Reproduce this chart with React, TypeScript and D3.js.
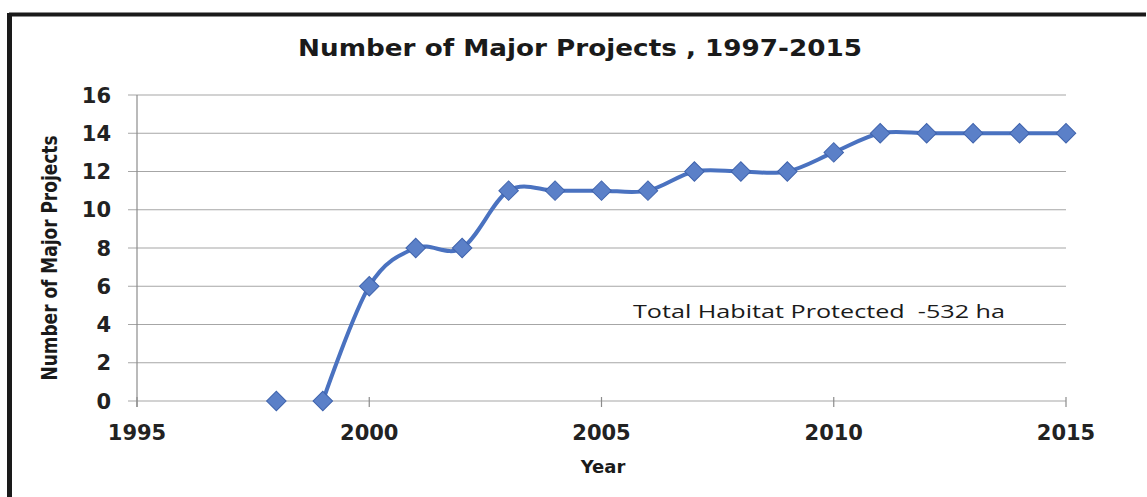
import React from 'react';
import * as d3 from 'd3';

// values
const years = [1998, 1999, 2000, 2001, 2002, 2003, 2004, 2005, 2006, 2007, 2008, 2009, 2010, 2011, 2012, 2013, 2014, 2015];
const projects = [0, 0, 6, 8, 8, 11, 11, 11, 11, 12, 12, 12, 13, 14, 14, 14, 14, 14];
const xTicks = [1995, 2000, 2005, 2010, 2015];
const yTicks = [0, 2, 4, 6, 8, 10, 12, 14, 16];
const title = 'Number of Major Projects , 1997-2015';
const xTitle = 'Year';
const yTitle = 'Number of Major Projects';
const note = 'Total Habitat Protected  -532 ha';

const width = 1147;
const height = 497;
const margin = { top: 95, right: 81, bottom: 96, left: 137 };
const blue = '#4a72c0';

const App = () => {
  const x = d3.scaleLinear()
    .domain([1995, 2015])
    .range([margin.left, width - margin.right]);
  const y = d3.scaleLinear()
    .domain([0, 16])
    .range([height - margin.bottom, margin.top]);

  const data = years.map((yr, i) => ({ year: yr, value: projects[i], i }));

  // the line in the source begins at 1999; the 1998 marker stands alone
  const line = d3.line<{ year: number; value: number; i: number }>()
    .defined(d => d.i > 0)
    .x(d => x(d.year))
    .y(d => y(d.value))
    .curve(d3.curveCardinal.tension(0));

  const diamond = d3.symbol().type(d3.symbolSquare).size(190)();

  const x0 = x(1995);
  const x1 = x(2015);

  return (
    <div style={{ position: 'absolute', left: 0, top: 0 }}>
      <svg width={width} height={height} style={{ display: 'block', background: '#fff' }}>
        {/* frame */}
        <line x1={9} x2={1146} y1={14.5} y2={14.5} stroke="#1a1a1a" strokeWidth={4} />
        <line x1={9.5} x2={9.5} y1={13} y2={height} stroke="#1a1a1a" strokeWidth={5} />

        <text x={580} y={56} textAnchor="middle" fontFamily="DejaVu Sans" fontWeight="bold" fontSize={23}
          textLength={564} lengthAdjust="spacingAndGlyphs" fill="#1a1a1a">
          {title}
        </text>

        {/* gridlines + y ticks */}
        {yTicks.map(t => (
          <g key={t}>
            <line x1={x0 - 9} x2={x1} y1={y(t)} y2={y(t)} stroke="#a6a6a6" strokeWidth={1.2} />
            <text x={111} y={y(t)} dy="0.36em" textAnchor="end" fontFamily="DejaVu Sans" fontWeight="bold" fontSize={21} fill="#222">
              {t}
            </text>
          </g>
        ))}
        <line x1={x0} x2={x0} y1={y(16)} y2={y(0) + 6} stroke="#8c8c8c" strokeWidth={1.2} />

        {/* x ticks */}
        {xTicks.map(t => (
          <g key={t}>
            <line x1={x(t)} x2={x(t)} y1={y(0) - 4} y2={y(0) + 6} stroke="#8c8c8c" strokeWidth={1.2} />
            <text x={x(t)} y={440} textAnchor="middle" fontFamily="DejaVu Sans" fontWeight="bold" fontSize={21} fill="#222">
              {t}
            </text>
          </g>
        ))}

        <text x={603} y={473} textAnchor="middle" fontFamily="DejaVu Sans" fontWeight="bold" fontSize={18} fill="#1a1a1a">
          {xTitle}
        </text>
        <text
          transform={`translate(57,${(y(0) + y(16)) / 2 + 10}) rotate(-90)`}
          textAnchor="middle"
          fontFamily="DejaVu Sans Condensed"
          fontWeight="bold"
          fontSize={22}
          textLength={245}
          lengthAdjust="spacingAndGlyphs"
          fill="#1a1a1a"
        >
          {yTitle}
        </text>

        <path d={line(data) ?? ''} fill="none" stroke={blue} strokeWidth={4} strokeLinejoin="round" />
        {data.map(d => (
          <path
            key={d.year}
            d={diamond}
            transform={`translate(${x(d.year)},${y(d.value)}) rotate(45)`}
            fill="#5b80c8"
            stroke="#3f63ad"
            strokeWidth={1}
          />
        ))}

        <text x={633} y={318} fontFamily="Open Sans" fontSize={19} fill="#1a1a1a"
          textLength={372} lengthAdjust="spacingAndGlyphs" style={{ whiteSpace: 'pre' }}>
          {note}
        </text>
      </svg>
    </div>
  );
};

export default App;
